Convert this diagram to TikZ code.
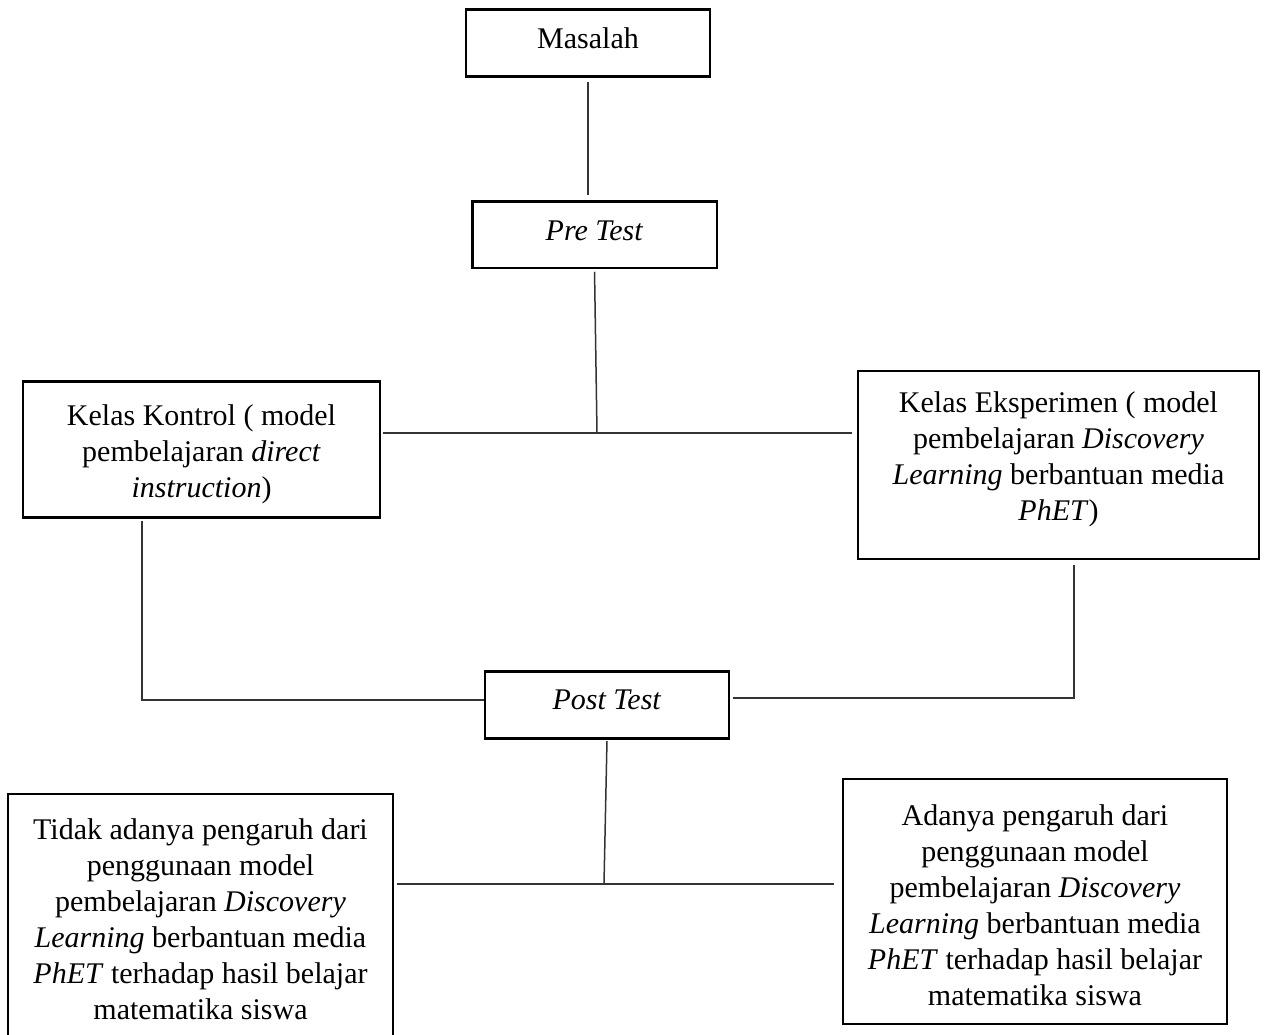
\documentclass[tikz,border=0pt]{standalone}
\usepackage{fontspec}
\setmainfont{Liberation Serif}

\begin{document}
\begin{tikzpicture}[x=0.4pt, y=-0.4pt,
    box/.style={draw, line width=1.1pt, inner sep=0pt, align=flush center, font=\fontsize{12}{14.4}\selectfont},
    link/.style={line width=0.6pt, black!80}]
    \useasboundingbox (0,0) rectangle (1267,1034);
    \node[box, text width=97.6pt, minimum height=26.8pt] (masalah) at (588,43) {Masalah\rule[-4pt]{0pt}{0pt}};
    \node[box, text width=97.9pt, minimum height=26.7pt] (pretest) at (594.5,234.5) {\textit{Pre Test}\rule[-3.2pt]{0pt}{0pt}};
    \node[box, text width=142.8pt, minimum height=54.2pt] (kontrol) at (201.5,449.5) {\rule{0pt}{12.2pt}Kelas Kontrol ( model\\ pembelajaran \textit{direct}\\ \textit{instruction})};
    \node[box, text width=160.4pt, minimum height=75.2pt] (eksperimen) at (1058.5,465) {Kelas Eksperimen ( model\\ pembelajaran \textit{Discovery}\\ \textit{Learning} berbantuan media\\ \textit{PhET})\rule[-7pt]{0pt}{0pt}};
    \node[box, text width=97.6pt, minimum height=26.8pt] (posttest) at (607,705) {\textit{Post Test}\rule[-4pt]{0pt}{0pt}};
    \node[box, text width=154pt, minimum height=98pt] (tidak) at (200.5,916.5) {\rule{0pt}{10.6pt}Tidak adanya pengaruh dari\\ penggunaan model\\ pembelajaran \textit{Discovery}\\ \textit{Learning} berbantuan media\\ \textit{PhET} terhadap hasil belajar\\ matematika siswa};
    \node[box, text width=153.6pt, minimum height=98pt] (adanya) at (1035,901.5) {\rule{0pt}{11.4pt}Adanya pengaruh dari\\ penggunaan model\\ pembelajaran \textit{Discovery}\\ \textit{Learning} berbantuan media\\ \textit{PhET} terhadap hasil belajar\\ matematika siswa};
    \coordinate (jtop) at (597,433);
    \coordinate (kbend) at (142,700);
    \coordinate (ebend) at (1074,698);
    \coordinate (jbot) at (604,884);
    \draw[link, shorten <=1.5pt, shorten >=2pt] (masalah.south) -- (masalah.south |- pretest.north);
    \draw[link, shorten <=1pt] (pretest.south) -- (jtop);
    \draw[link, shorten <=0.5pt, shorten >=2pt] (kontrol.east |- jtop) -- (eksperimen.west |- jtop);
    \draw[link, shorten <=1pt] (kbend |- kontrol.south) -- (kbend) -- (posttest.west |- kbend);
    \draw[link, shorten <=2pt, shorten >=1pt] (ebend |- eksperimen.south) -- (ebend) -- (posttest.east |- ebend);
    \draw[link, shorten <=0.5pt] (posttest.south) -- (jbot);
    \draw[link, shorten <=1pt, shorten >=3pt] (tidak.east |- jbot) -- (adanya.west |- jbot);
\end{tikzpicture}
\end{document}
